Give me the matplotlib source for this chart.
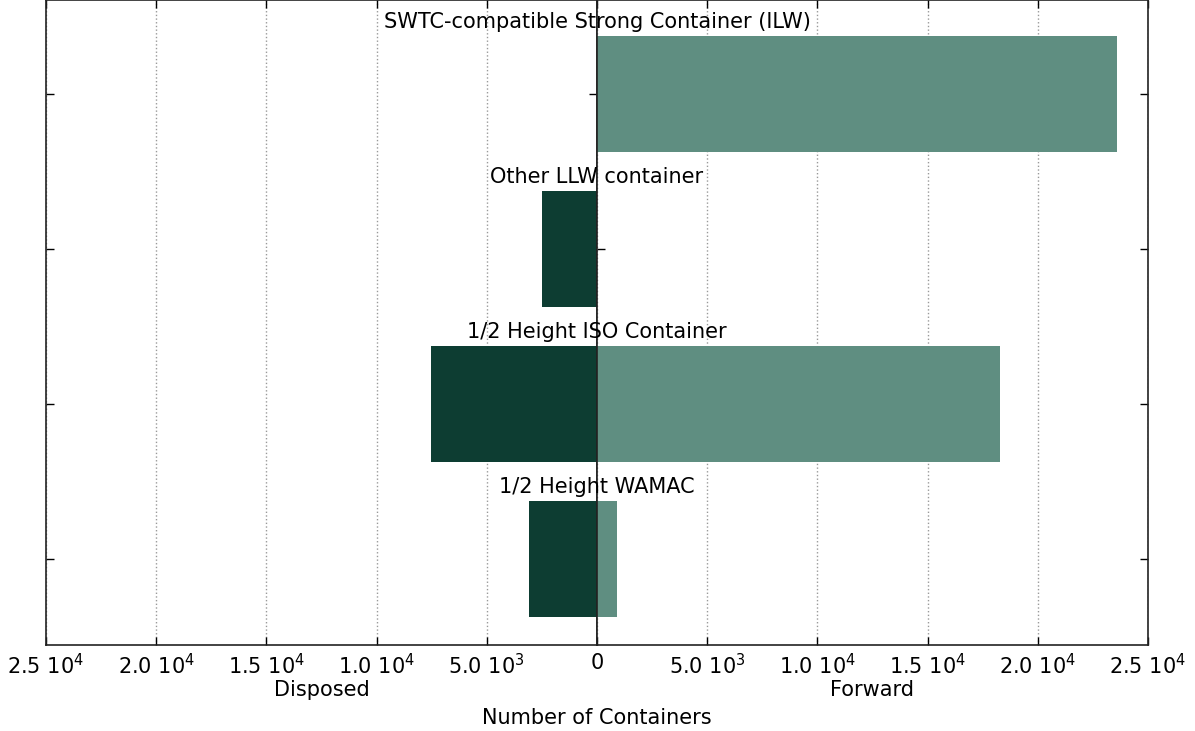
import matplotlib
matplotlib.use("Agg")
import matplotlib.pyplot as plt
import numpy as np

# data (bottom to top)
categories = ['1/2 Height WAMAC', '1/2 Height ISO Container',
              'Other LLW container', 'SWTC-compatible Strong Container (ILW)']
disposed = [3100, 7550, 2500, 0]
forward = [900, 18300, 0, 23600]

tick_vals = [0, 5000, 10000, 15000, 20000, 25000]
tick_labels = ['0', '5.0 10$^3$', '1.0 10$^4$', '1.5 10$^4$', '2.0 10$^4$', '2.5 10$^4$']

dark = '#0d3d32'
light = '#5f8e81'

plt.rcParams['font.family'] = 'DejaVu Sans'
plt.rcParams['mathtext.fontset'] = 'dejavusans'
plt.rcParams['font.size'] = 15

fig = plt.figure(figsize=(11.95, 7.31), dpi=100)
axl = fig.add_axes([46/1195, 1 - 645/731, 551/1195, 645/731])
axr = fig.add_axes([597/1195, 1 - 645/731, 551/1195, 645/731])

y = np.arange(len(categories))

axl.barh(y, disposed, height=0.75, color=dark, edgecolor='none', zorder=2)
axr.barh(y, forward, height=0.75, color=light, edgecolor='none', zorder=2)

axl.set_xlim(25000, 0)
axr.set_xlim(0, 25000)
for ax in (axl, axr):
    ax.set_ylim(-0.555, 3.606)
    ax.set_yticks(y)
    ax.set_yticklabels([])
    ax.set_xticks(tick_vals)
    ax.grid(axis='x', linestyle=':', color='#999999', linewidth=1, zorder=0)
    ax.tick_params(direction='in', top=True, right=True, left=True, length=6, width=1, pad=6)
    for s in ax.spines.values():
        s.set_color('#222222')
        s.set_linewidth(1.2)

axl.set_xticklabels(tick_labels)
axr.set_xticklabels([''] + tick_labels[1:])
axl.set_xlabel('Disposed', labelpad=1)
axr.set_xlabel('Forward', labelpad=1)

for i, name in enumerate(categories):
    axr.text(0, y[i] + 0.4, name, ha='center', va='bottom', clip_on=False, zorder=5)

fig.text(597/1195, 1 - 718/731, 'Number of Containers', ha='center', va='center')

fig.savefig('out.png', dpi=100)
